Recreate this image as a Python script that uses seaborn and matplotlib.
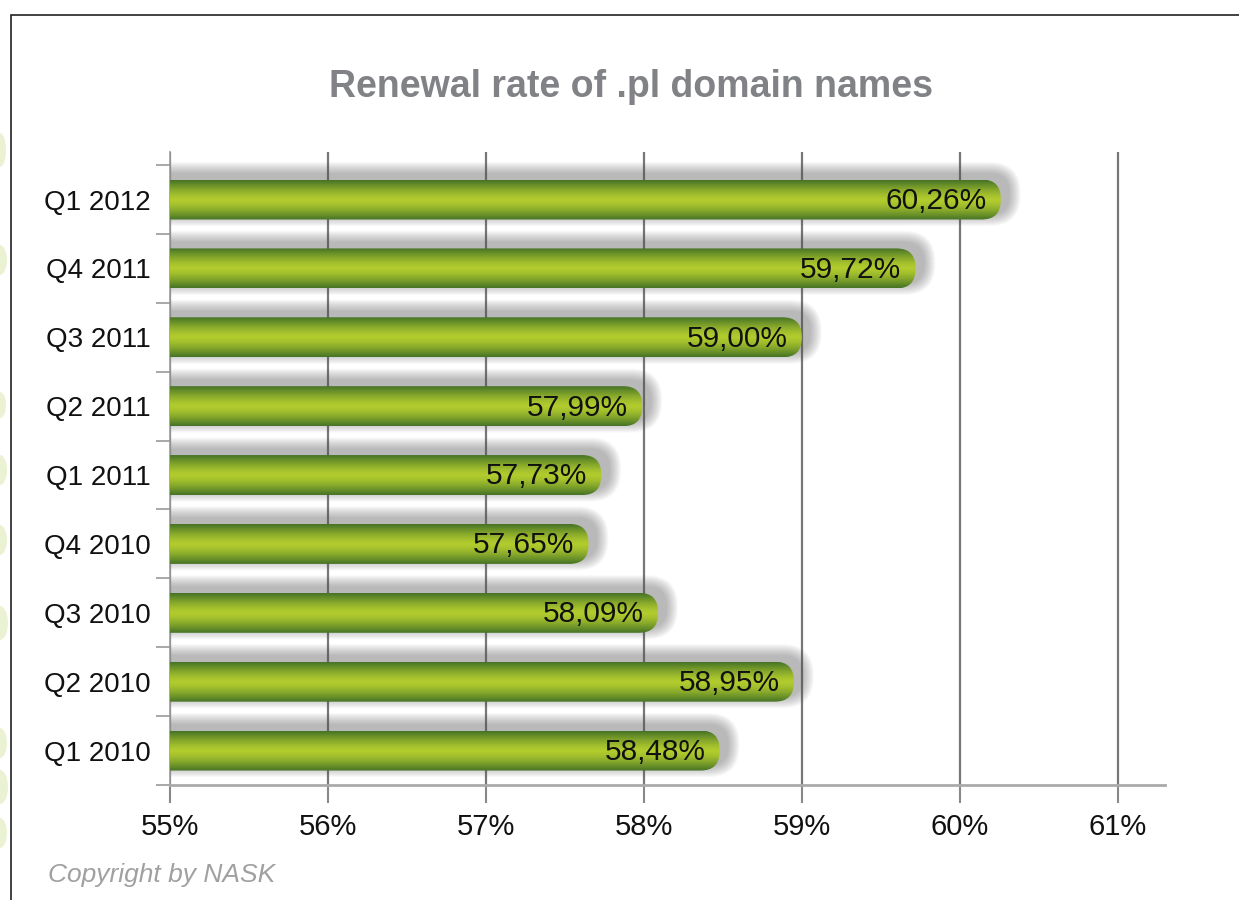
import numpy as np
import pandas as pd
import matplotlib
matplotlib.use("Agg")
import matplotlib.pyplot as plt
from matplotlib.patches import FancyBboxPatch, Rectangle, Ellipse
import seaborn as sns

quarters = ["Q1 2012", "Q4 2011", "Q3 2011", "Q2 2011", "Q1 2011",
            "Q4 2010", "Q3 2010", "Q2 2010", "Q1 2010"]
rates = [60.26, 59.72, 59.00, 57.99, 57.73, 57.65, 58.09, 58.95, 58.48]
x_ticks = [55, 56, 57, 58, 59, 60, 61]
title = "Renewal rate of .pl domain names"
credit = "Copyright by NASK"

df = pd.DataFrame({"quarter": quarters, "rate": rates})

sns.set_style("white")
plt.rcParams["font.family"] = ["Liberation Sans", "DejaVu Sans"]

fig = plt.figure(figsize=(12.39, 9), dpi=100)
ax = fig.add_axes([170 / 1239, 1 - 785 / 900, 995 / 1239, 633 / 900])

sns.barplot(data=df, x="rate", y="quarter", order=quarters, orient="h",
            width=0.58, color="#8ab02e", ax=ax, zorder=3)

ax.set_xlim(55, 61.3)
ax.set_ylim(8.5, -0.69)

# px per data unit, for round corners
sx = 995 / 6.3
sy = 633 / 9.19
asp = sx / sy
r = 0.12

grad_vals = np.abs(np.linspace(-1, 1, 64))
dark = np.array([70, 115, 38]) / 255
light = np.array([178, 204, 46]) / 255
w = grad_vals[:, None] ** 1.4
grad = light[None, :] * (1 - w) + dark[None, :] * w
grad = grad[:, None, :]

for p in list(ax.patches):
    x1 = p.get_x() + p.get_width()
    yc = p.get_y() + p.get_height() / 2
    h = p.get_height()
    p.set_visible(False)
    # soft shadow, thrown up and to the right
    for k in range(12, 0, -1):
        g = k * 1.0
        sh = FancyBboxPatch((54.5, yc - h / 2 - 0.08 - g / sy),
                            x1 - 54.5 + 0.05 + g / sx, h + 2 * g / sy,
                            boxstyle=f"round,pad=0,rounding_size={r + g / sx}",
                            mutation_aspect=asp, fc="#555555", ec="none",
                            alpha=0.04, zorder=2)
        ax.add_patch(sh)
    bar = FancyBboxPatch((54.5, yc - h / 2), x1 - 54.5, h,
                         boxstyle=f"round,pad=0,rounding_size={r}",
                         mutation_aspect=asp, fc="none", ec="none", zorder=3)
    ax.add_patch(bar)
    im = ax.imshow(grad, extent=[54.5, x1, yc + h / 2, yc - h / 2],
                   aspect="auto", zorder=3, interpolation="bilinear")
    im.set_clip_path(bar)
    lbl = f"{p.get_width():.2f}%".replace(".", ",")
    ax.text(x1 - 0.09, yc + 0.02, lbl, ha="right", va="center",
            fontsize=21.5, color="#111111", zorder=5)

ax.set_xlim(55, 61.3)
ax.set_ylim(8.5, -0.69)

ax.set_xticks(x_ticks)
ax.set_xticklabels([f"{t}%" for t in x_ticks], fontsize=21, color="#111111")
ax.set_yticks(range(len(quarters)))
ax.set_yticklabels(quarters, fontsize=20, color="#111111")
ax.set_yticks(np.arange(-0.5, len(quarters), 1), minor=True)
ax.tick_params(axis="y", which="major", length=0, pad=14)
ax.tick_params(axis="y", which="minor", length=10, width=1.2, color="#999999",
               direction="out", left=True)
ax.tick_params(axis="x", length=13, width=1.5, color="#888888",
               direction="out", bottom=True, pad=7)
ax.set_xlabel("")
ax.set_ylabel("")

ax.grid(axis="x", color="#777777", lw=1.6, zorder=1)
ax.grid(axis="y", visible=False)
ax.set_axisbelow(True)
for s in ["top", "right"]:
    ax.spines[s].set_visible(False)
ax.spines["left"].set_color("#999999")
ax.spines["left"].set_linewidth(1.2)
ax.spines["bottom"].set_color("#aaaaaa")
ax.spines["bottom"].set_linewidth(2)

fig.text(631 / 1239, 1 - 87 / 900, title, ha="center", va="center",
         fontsize=27, fontweight="bold", color="#808285",
         family=["Liberation Sans Narrow", "Liberation Sans", "DejaVu Sans"])
fig.text(48 / 1239, 1 - 875 / 900, credit, ha="left", va="center",
         fontsize=19, style="italic", color="#a0a0a0")

# page frame
fig.add_artist(Rectangle((11 / 1239, -0.1), 1.2, 1 - 15 / 900 + 0.1,
                         transform=fig.transFigure, fill=False,
                         ec="#222222", lw=1.2))
# faint leaf decorations at the left edge
for yy, ww, hh in [(150, 12, 34), (260, 14, 30), (405, 12, 26), (470, 14, 30),
                   (540, 14, 30), (623, 16, 34), (743, 14, 30), (787, 16, 34),
                   (833, 14, 30)]:
    fig.add_artist(Ellipse((0, 1 - yy / 900), ww / 1239, hh / 900,
                           transform=fig.transFigure, fc="#dfeab8",
                           ec="none", alpha=0.6))

fig.savefig("out.png", dpi=100)
